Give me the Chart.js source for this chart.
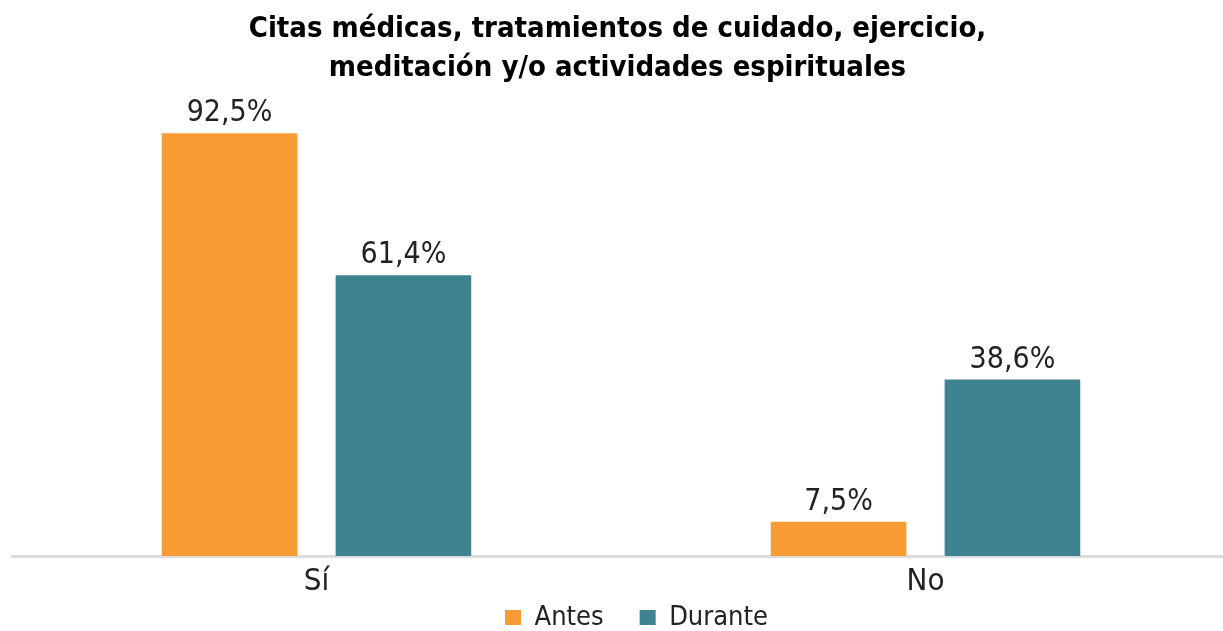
<!DOCTYPE html>
<html>
<head>
<meta charset="utf-8">
<script src="https://cdn.jsdelivr.net/npm/chart.js@4"></script>
<style>
  html, body { margin: 0; padding: 0; background: #fff; }
  #wrap { width: 1223px; height: 631px; }
</style>
</head>
<body>
<div id="wrap"><canvas id="chart" width="1223" height="631"></canvas></div>
<script>
// ── Data ──
const categories    = ['Sí', 'No'];
const antesValues   = [92.5, 7.5];
const duranteValues = [61.4, 38.6];
const seriesNames   = ['Antes', 'Durante'];

const FONT = "'DejaVu Sans Condensed', 'Liberation Sans Narrow', 'Roboto', sans-serif";
const LEGEND_PAD = 36;

/* ── Value labels above bars ── */
const valueLabels = {
  id: 'valueLabels',
  afterDatasetsDraw(chart) {
    const ctx = chart.ctx;
    ctx.save();
    ctx.font = `30px ${FONT}`;
    ctx.fillStyle = '#222';
    ctx.textAlign = 'center';
    ctx.textBaseline = 'alphabetic';
    chart.data.datasets.forEach((ds, i) => {
      chart.getDatasetMeta(i).data.forEach((bar, j) => {
        const txt = ds.data[j].toFixed(1).replace('.', ',') + '%';
        ctx.fillText(txt, bar.x, bar.y - 12);
      });
    });
    ctx.restore();
  }
};

/* ── Legend: small reserved box, items drawn near the bottom edge ── */
const legendPlace = {
  id: 'legendPlace',
  beforeInit(chart) {
    const origFit = chart.legend.fit;
    chart.legend.fit = function () {
      origFit.bind(chart.legend)();
      this.height = 32;
    };
  },
  afterLayout(chart) {
    const lg = chart.legend;
    lg.top = 618 - LEGEND_PAD - 14;
    lg.bottom = chart.height;
    lg.height = lg.bottom - lg.top;
    lg.left += 19;
    lg.right += 19;

    // category axis runs a bit past the right edge, as in the original
    const x = chart.scales.x;
    x.right = 1230;
    x.width = x.right - x.left;
    x.configure();
  }
};

new Chart(document.getElementById('chart').getContext('2d'), {
  type: 'bar',
  data: {
    labels: categories,
    datasets: [{
      label: seriesNames[0],
      data: antesValues,
      backgroundColor: '#F99B34',
      categoryPercentage: 0.571,
      barPercentage: 0.78
    }, {
      label: seriesNames[1],
      data: duranteValues,
      backgroundColor: '#3E8490',
      categoryPercentage: 0.571,
      barPercentage: 0.78
    }]
  },
  options: {
    responsive: false,
    animation: false,
    layout: { padding: { left: 12, right: 0, top: 4, bottom: 0 } },
    plugins: {
      title: {
        display: true,
        text: ['Citas médicas, tratamientos de cuidado, ejercicio,', 'meditación y/o actividades espirituales'],
        color: '#000',
        font: { family: FONT, size: 29, weight: 'bold', lineHeight: 1.35 },
        padding: { top: 6, bottom: 6 }
      },
      legend: {
        position: 'bottom',
        labels: {
          color: '#222',
          font: { family: FONT, size: 27 },
          boxWidth: 16,
          boxHeight: 15,
          padding: LEGEND_PAD
        }
      },
      tooltip: { enabled: false }
    },
    scales: {
      x: {
        grid: { display: false },
        border: { display: true, color: '#dcdcdc', width: 3 },
        ticks: { color: '#222', font: { family: FONT, size: 31, lineHeight: 1 }, padding: 2 }
      },
      y: {
        display: false,
        min: 0,
        max: 101
      }
    }
  },
  plugins: [valueLabels, legendPlace]
});
</script>
</body>
</html>
